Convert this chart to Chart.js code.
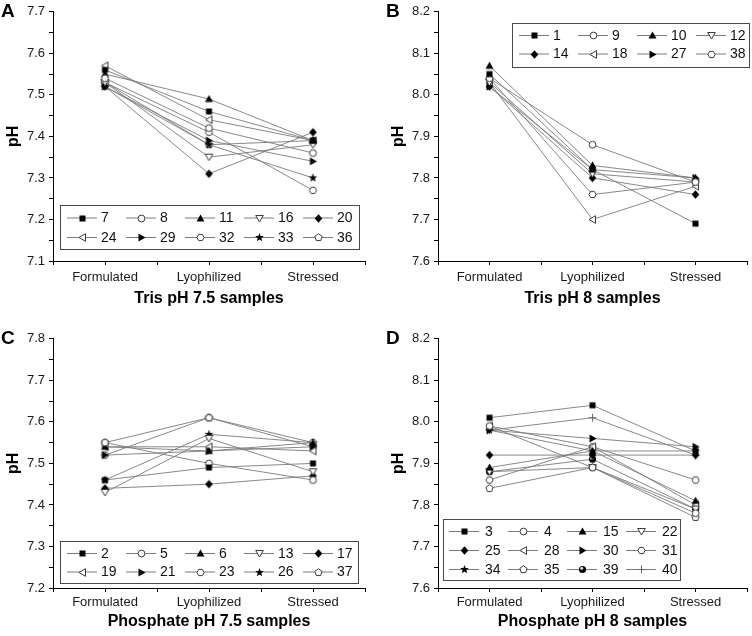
<!DOCTYPE html>
<html>
<head>
<meta charset="utf-8">
<script src="https://cdn.jsdelivr.net/npm/chart.js@4.4.1/dist/chart.umd.min.js"></script>
<style>
  html, body { margin: 0; padding: 0; background: #fff; }
  #page { position: relative; width: 752px; height: 636px; overflow: hidden; }
  .panel { position: absolute; }
  .panel canvas { display: block; }
</style>
</head>
<body>
<div id="page">
  <div class="panel" style="left:0;top:0"><canvas id="chartA" width="376" height="318"></canvas></div>
  <div class="panel" style="left:385px;top:0"><canvas id="chartB" width="367" height="318"></canvas></div>
  <div class="panel" style="left:0;top:327px"><canvas id="chartC" width="376" height="309"></canvas></div>
  <div class="panel" style="left:385px;top:327px"><canvas id="chartD" width="367" height="309"></canvas></div>
</div>
<script>
const CATEGORIES = ['Formulated', 'Lyophilized', 'Stressed'];

// Tris pH 7.5 (panel A) - one row per sample: formulated, lyophilized, stressed
const TRIS75_SAMPLES = ['7', '8', '11', '16', '20', '24', '29', '32', '33', '36'];
const TRIS75_PH = [
  [7.56, 7.46, 7.39],
  [7.54, 7.42, 7.36],
  [7.55, 7.49, 7.39],
  [7.53, 7.35, 7.38],
  [7.52, 7.31, 7.41],
  [7.57, 7.44, 7.39],
  [7.52, 7.39, 7.34],
  [7.53, 7.41, 7.27],
  [7.52, 7.38, 7.30],
  [7.53, 7.38, 7.39],
];

// Tris pH 8 (panel B)
const TRIS8_SAMPLES = ['1', '9', '10', '12', '14', '18', '27', '38'];
const TRIS8_PH = [
  [8.05, 7.82, 7.69],
  [8.04, 7.88, 7.79],
  [8.07, 7.83, 7.80],
  [8.03, 7.81, 7.79],
  [8.02, 7.80, 7.76],
  [8.03, 7.70, 7.78],
  [8.02, 7.82, 7.80],
  [8.04, 7.76, 7.79],
];

// Phosphate pH 7.5 (panel C)
const PHOS75_SAMPLES = ['2', '5', '6', '13', '17', '19', '21', '23', '26', '37'];
const PHOS75_PH = [
  [7.46, 7.49, 7.50],
  [7.55, 7.50, 7.46],
  [7.54, 7.53, 7.55],
  [7.43, 7.56, 7.48],
  [7.44, 7.45, 7.47],
  [7.54, 7.54, 7.53],
  [7.52, 7.53, 7.54],
  [7.52, 7.61, 7.55],
  [7.46, 7.57, 7.55],
  [7.55, 7.61, 7.54],
];

// Phosphate pH 8 (panel D)
const PHOS8_SAMPLES = ['3', '4', '15', '22', '25', '28', '30', '31', '34', '35', '39', '40'];
const PHOS8_PH = [
  [8.01, 8.04, 7.93],
  [7.99, 7.89, 7.78],
  [7.89, 7.93, 7.81],
  [7.88, 7.89, 7.79],
  [7.92, 7.92, 7.92],
  [7.99, 7.94, 7.80],
  [7.98, 7.96, 7.94],
  [7.86, 7.94, 7.86],
  [7.98, 7.93, 7.93],
  [7.84, 7.89, 7.77],
  [7.88, 7.91, 7.79],
  [7.98, 8.01, 7.92],
];

const Y_RANGE_A = [7.1, 7.7];
const Y_RANGE_B = [7.6, 8.2];
const Y_RANGE_C = [7.2, 7.8];
const Y_RANGE_D = [7.6, 8.2];

// symbol cycle, same order in every panel
const MARKER_ORDER = ['square', 'circle', 'triUp', 'triDown', 'diamond', 'triLeft',
  'triRight', 'hexagon', 'star', 'pentagon', 'sphere', 'plus'];

const FONT = '"Liberation Sans", Arial, Helvetica, sans-serif';
const LINE_GREY = '#7c7c7c';

function makeMarker(kind) {
  const c = document.createElement('canvas');
  c.width = 11;
  c.height = 11;
  const ctx = c.getContext('2d');
  ctx.translate(5.5, 5.5);
  ctx.lineWidth = 1;
  const poly = pts => {
    ctx.beginPath();
    pts.forEach(([x, y], i) => (i ? ctx.lineTo(x, y) : ctx.moveTo(x, y)));
    ctx.closePath();
  };
  const regular = (n, r, rot) => {
    const pts = [];
    for (let i = 0; i < n; i++) {
      const a = rot + i * 2 * Math.PI / n;
      pts.push([r * Math.cos(a), r * Math.sin(a)]);
    }
    poly(pts);
  };
  const solid = () => { ctx.fillStyle = '#000'; ctx.fill(); };
  const hollow = () => { ctx.fillStyle = '#fff'; ctx.fill(); ctx.strokeStyle = '#3a3a3a'; ctx.stroke(); };

  switch (kind) {
    case 'square': ctx.fillStyle = '#000'; ctx.fillRect(-3, -3, 6, 6); break;
    case 'circle': ctx.beginPath(); ctx.arc(0, 0, 3.4, 0, 2 * Math.PI); hollow(); break;
    case 'triUp': poly([[0, -4], [4, 3], [-4, 3]]); solid(); break;
    case 'triDown': poly([[0, 3.5], [3.8, -3], [-3.8, -3]]); hollow(); break;
    case 'diamond': poly([[0, -4.2], [3.8, 0], [0, 4.2], [-3.8, 0]]); solid(); break;
    case 'triLeft': poly([[-3.5, 0], [3, -3.8], [3, 3.8]]); hollow(); break;
    case 'triRight': poly([[4, 0], [-3, -4], [-3, 4]]); solid(); break;
    case 'hexagon': regular(6, 3.6, 0); hollow(); break;
    case 'pentagon': regular(5, 3.8, -Math.PI / 2); hollow(); break;
    case 'star': {
      const pts = [];
      for (let i = 0; i < 10; i++) {
        const r = i % 2 ? 1.9 : 4.6;
        const a = -Math.PI / 2 + i * Math.PI / 5;
        pts.push([r * Math.cos(a), r * Math.sin(a)]);
      }
      poly(pts);
      solid();
      break;
    }
    case 'sphere':
      ctx.beginPath(); ctx.arc(0, 0, 3.6, 0, 2 * Math.PI); solid();
      ctx.beginPath(); ctx.arc(-0.8, -1.2, 1.5, 0, 2 * Math.PI); ctx.fillStyle = '#ddd'; ctx.fill();
      break;
    case 'plus':
      ctx.strokeStyle = '#666';
      ctx.beginPath();
      ctx.moveTo(-4, 0); ctx.lineTo(4, 0);
      ctx.moveTo(0, -4); ctx.lineTo(0, 4);
      ctx.stroke();
      break;
  }
  return c;
}

const MARKERS = MARKER_ORDER.map(makeMarker);

// legend drawn inside the plot: short line with the symbol, then the sample number
const boxLegend = {
  id: 'boxLegend',
  afterDatasetsDraw(chart, args, opts) {
    const { ctx } = chart;
    const ds = chart.data.datasets;
    ctx.save();
    ctx.fillStyle = '#fff';
    ctx.fillRect(opts.x, opts.y, opts.w, opts.h);
    ctx.strokeStyle = '#4a4a4a';
    ctx.lineWidth = 1;
    ctx.strokeRect(opts.x + 0.5, opts.y + 0.5, opts.w, opts.h);
    ctx.font = `14px ${FONT}`;
    ctx.textBaseline = 'middle';
    ctx.textAlign = 'left';
    ds.forEach((d, i) => {
      const col = i % opts.cols;
      const row = Math.floor(i / opts.cols);
      const x0 = opts.startX + col * opts.colW;
      const y0 = opts.firstRow + row * opts.rowH;
      ctx.strokeStyle = LINE_GREY;
      ctx.lineWidth = 1;
      ctx.beginPath();
      ctx.moveTo(x0, y0 + 0.5);
      ctx.lineTo(x0 + opts.lineLen, y0 + 0.5);
      ctx.stroke();
      const img = d.pointStyle;
      ctx.drawImage(img, Math.round(x0 + opts.lineLen / 2 - img.width / 2), Math.round(y0 - img.height / 2 + 0.5));
      ctx.fillStyle = '#111';
      ctx.fillText(d.label, x0 + opts.lineLen + opts.textGap, y0 + 1);
    });
    ctx.restore();
  },
};

// panel letter in the top-left corner
const panelLetter = {
  id: 'panelLetter',
  afterDraw(chart, args, opts) {
    const { ctx } = chart;
    ctx.save();
    ctx.font = `bold 19px ${FONT}`;
    ctx.fillStyle = '#000';
    ctx.textBaseline = 'alphabetic';
    ctx.fillText(opts.text, 1, 17);
    ctx.restore();
  },
};

function isMajor(v) {
  return Math.abs(v * 10 - Math.round(v * 10)) < 1e-6;
}

function makePanel(canvasId, letter, title, samples, values, yRange, legend, xHeight, rightPad, labelPad) {
  const datasets = samples.map((s, i) => ({
    label: s,
    data: values[i].map((v, j) => ({ x: j + 1, y: v })),
    borderColor: LINE_GREY,
    borderWidth: 0.9,
    pointStyle: MARKERS[i],
    pointRadius: 4,
    pointHoverRadius: 4,
    tension: 0,
    fill: false,
  }));

  return new Chart(document.getElementById(canvasId), {
    type: 'line',
    data: { datasets },
    options: {
      responsive: false,
      animation: false,
      devicePixelRatio: 1,
      clip: false,
      events: [],
      layout: { padding: { top: 10, right: rightPad, left: 0, bottom: 0 } },
      plugins: {
        legend: { display: false },
        tooltip: { enabled: false },
        boxLegend: legend,
        panelLetter: { text: letter },
      },
      scales: {
        x: {
          type: 'linear',
          min: 0.5,
          max: 3.5,
          afterFit: s => { s.height = xHeight; },
          border: { display: true, color: '#000', width: 1 },
          grid: { drawOnChartArea: false, drawTicks: true, tickLength: 4, color: '#000' },
          ticks: {
            stepSize: 0.5,
            autoSkip: false,
            maxRotation: 0,
            padding: labelPad,
            color: '#1a1a1a',
            font: { family: FONT, size: 13 },
            callback: v => (Number.isInteger(v) ? CATEGORIES[v - 1] : ''),
          },
          title: {
            display: true,
            text: title,
            color: '#000',
            font: { family: FONT, size: 16, weight: 'bold' },
            padding: { top: 0, bottom: xHeight > 50 ? 10 : 5 },
          },
        },
        y: {
          min: yRange[0],
          max: yRange[1],
          afterFit: s => { s.width = 53; },
          border: { display: true, color: '#000', width: 1 },
          grid: { drawOnChartArea: false, drawTicks: true, tickLength: 4, color: '#000' },
          ticks: {
            stepSize: 0.05,
            padding: 4,
            color: '#1a1a1a',
            font: { family: FONT, size: 13 },
            callback: v => (isMajor(v) ? v.toFixed(1) : ''),
          },
          title: {
            display: true,
            text: 'pH',
            color: '#000',
            font: { family: FONT, size: 16, weight: 'bold' },
            padding: { top: 4, bottom: 0 },
          },
        },
      },
    },
    plugins: [boxLegend, panelLetter],
  });
}

makePanel('chartA', 'A', 'Tris pH 7.5 samples', TRIS75_SAMPLES, TRIS75_PH, Y_RANGE_A,
  { x: 60, y: 205, w: 299, h: 44, cols: 5, startX: 67, colW: 59, firstRow: 217.5, rowH: 19.5, lineLen: 30, textGap: 4 },
  57, 11, 5);

makePanel('chartB', 'B', 'Tris pH 8 samples', TRIS8_SAMPLES, TRIS8_PH, Y_RANGE_B,
  { x: 127, y: 23, w: 237, h: 44, cols: 4, startX: 134, colW: 59, firstRow: 35, rowH: 18.5, lineLen: 30, textGap: 4 },
  57, 2, 5);

makePanel('chartC', 'C', 'Phosphate pH 7.5 samples', PHOS75_SAMPLES, PHOS75_PH, Y_RANGE_C,
  { x: 60, y: 214, w: 298, h: 42, cols: 5, startX: 67, colW: 59, firstRow: 226, rowH: 18.5, lineLen: 30, textGap: 4 },
  48, 11, 3);

makePanel('chartD', 'D', 'Phosphate pH 8 samples', PHOS8_SAMPLES, PHOS8_PH, Y_RANGE_D,
  { x: 58, y: 192, w: 237, h: 61, cols: 4, startX: 64, colW: 59, firstRow: 204, rowH: 19, lineLen: 30, textGap: 6 },
  48, 2, 3);
</script>
</body>
</html>
